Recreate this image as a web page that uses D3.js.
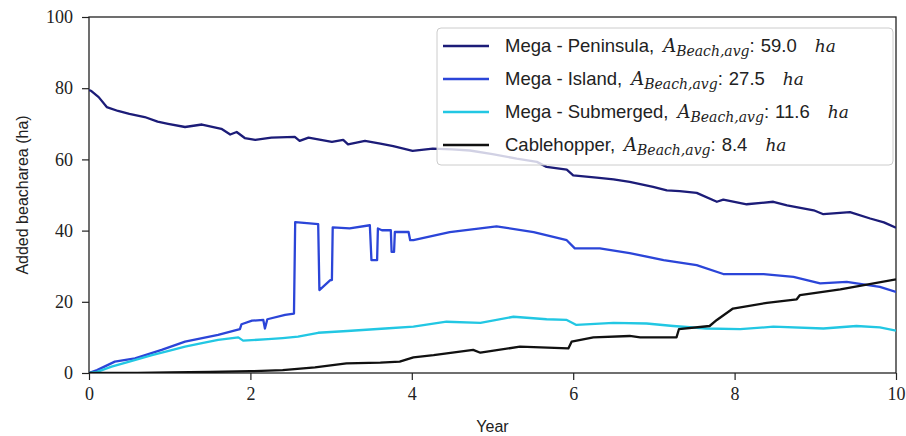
<!DOCTYPE html>
<html>
<head>
<meta charset="utf-8">
<script src="https://cdn.jsdelivr.net/npm/d3@7"></script>
<style>
  body { margin: 0; background: white; }
  svg { display: block; }
</style>
</head>
<body>
<div id="graf"></div>
<script>
// year, added beach area (ha)
const peninsula = [[0,79.5],[0.03,79.2],[0.12,77.5],[0.22,74.7],[0.36,73.6],[0.5,72.8],[0.69,71.9],[0.85,70.6],[0.98,70.0],[1.19,69.1],[1.4,69.8],[1.64,68.6],[1.75,67.0],[1.83,67.7],[1.93,66.0],[2.06,65.5],[2.26,66.1],[2.55,66.3],[2.61,65.2],[2.72,66.1],[3.01,64.9],[3.15,65.5],[3.21,64.2],[3.42,65.2],[3.61,64.4],[3.77,63.7],[4.01,62.4],[4.26,63.0],[4.5,62.8],[4.72,62.5],[5.0,61.5],[5.3,60.2],[5.55,59.3],[5.67,57.9],[5.92,57.1],[6.0,55.5],[6.29,54.9],[6.5,54.4],[6.7,53.7],[6.99,52.3],[7.16,51.3],[7.32,51.1],[7.53,50.6],[7.78,48.1],[7.86,48.7],[8.15,47.4],[8.48,48.1],[8.65,47.1],[8.98,45.7],[9.1,44.6],[9.43,45.2],[9.68,43.4],[9.85,42.3],[10,40.8]]
const island = [[0,0],[0.1,0.8],[0.32,3.2],[0.57,4.1],[0.9,6.5],[1.19,8.8],[1.6,10.7],[1.87,12.3],[1.89,13.7],[2.02,14.7],[2.16,14.9],[2.18,12.5],[2.21,15.1],[2.43,16.3],[2.54,16.7],[2.555,42.4],[2.7,42.1],[2.84,41.8],[2.855,23.3],[2.99,26.1],[3.01,26.1],[3.02,40.9],[3.23,40.6],[3.48,41.5],[3.5,31.7],[3.57,31.7],[3.58,40.6],[3.63,40.1],[3.74,40.1],[3.75,34.0],[3.78,34.0],[3.79,39.6],[3.96,39.6],[3.98,37.3],[4.02,37.3],[4.47,39.6],[5.05,41.2],[5.51,39.6],[5.92,37.3],[6.02,35.0],[6.33,35.0],[6.7,33.7],[7.12,31.7],[7.53,30.3],[7.86,27.8],[8.36,27.8],[8.73,27.0],[9.06,25.2],[9.39,25.6],[9.8,24.2],[10,22.8]]
const submerged = [[0,0],[0.1,0.3],[0.28,1.8],[0.5,3.2],[0.78,5.0],[1.0,6.3],[1.19,7.4],[1.4,8.4],[1.6,9.3],[1.85,10.0],[1.91,9.1],[2.22,9.5],[2.4,9.8],[2.59,10.2],[2.84,11.3],[3.2,11.8],[3.67,12.5],[4.02,13.0],[4.43,14.4],[4.85,14.1],[5.26,15.8],[5.67,15.1],[5.92,14.9],[6.04,13.5],[6.5,14.1],[6.91,13.9],[7.24,13.2],[7.65,12.5],[8.07,12.3],[8.48,13.0],[9.1,12.5],[9.51,13.2],[9.8,12.8],[10,11.9]]
const cablehopper = [[0,0],[0.6,0],[1.0,0.2],[1.5,0.3],[2.0,0.5],[2.4,0.8],[2.8,1.6],[3.19,2.7],[3.61,2.9],[3.85,3.2],[4.02,4.4],[4.27,5.0],[4.76,6.5],[4.85,5.7],[5.34,7.4],[5.94,6.9],[5.98,8.8],[6.25,10.0],[6.7,10.4],[6.83,10.0],[7.28,10.0],[7.31,12.3],[7.69,13.2],[7.78,14.9],[7.98,18.1],[8.4,19.7],[8.77,20.7],[8.81,21.9],[9.31,23.5],[10,26.3]]

const seriesNames = ["Mega - Peninsula", "Mega - Island", "Mega - Submerged", "Cablehopper"]
const seriesAvg = ["59.0", "27.5", "11.6", "8.4"]
const seriesColors = ["#1c1c78", "#2b45d8", "#22c7e3", "#111111"]
const xTicks = [0, 2, 4, 6, 8, 10]
const yTicks = [0, 20, 40, 60, 80, 100]

const anchoTotal = 906
const altoTotal = 436
const margins = { top: 17, right: 10, bottom: 63, left: 89 }
const ancho = anchoTotal - margins.left - margins.right
const alto = altoTotal - margins.top - margins.bottom

const svg = d3.select("#graf")
  .append("svg")
  .attr("width", anchoTotal)
  .attr("height", altoTotal)

const g = svg.append("g")
  .attr("transform", `translate(${margins.left}, ${margins.top})`)

const x = d3.scaleLinear().domain([0, 10]).range([0, ancho])
const y = d3.scaleLinear().domain([0, 100]).range([alto, 0])

const serif = "'Liberation Serif', 'DejaVu Serif', serif"
const mathFont = "'DejaVu Serif', serif"
const sans = "'Liberation Sans', Arial, sans-serif"

// axes
const xAxis = g.append("g")
  .attr("transform", `translate(0, ${alto})`)
  .call(d3.axisBottom(x).tickValues(xTicks).tickSize(7).tickPadding(7))
const yAxis = g.append("g")
  .call(d3.axisLeft(y).tickValues(yTicks).tickSize(7).tickPadding(9))

for (const ax of [xAxis, yAxis]) {
  ax.select(".domain").remove()
  ax.selectAll("line").attr("stroke", "#222").attr("stroke-width", 1.2)
  ax.selectAll("text")
    .attr("font-family", serif)
    .attr("font-size", 18)
    .attr("fill", "#222")
}

// frame
g.append("rect")
  .attr("width", ancho)
  .attr("height", alto)
  .attr("fill", "none")
  .attr("stroke", "#222")
  .attr("stroke-width", 1.3)

const line = d3.line()
  .x((d) => x(d[0]))
  .y((d) => y(d[1]))

const allSeries = [peninsula, island, submerged, cablehopper]

g.append("defs").append("clipPath").attr("id", "clip")
  .append("rect").attr("width", ancho).attr("height", alto)

g.append("g").attr("clip-path", "url(#clip)")
  .selectAll("path")
  .data(allSeries)
  .enter()
  .append("path")
  .attr("d", line)
  .attr("fill", "none")
  .attr("stroke", (d, i) => seriesColors[i])
  .attr("stroke-width", 2.3)
  .attr("stroke-linejoin", "round")

// axis labels
svg.append("text")
  .attr("x", margins.left + ancho / 2)
  .attr("y", 432)
  .attr("text-anchor", "middle")
  .attr("font-family", sans)
  .attr("font-size", 16)
  .attr("fill", "#222")
  .text("Year")

svg.append("text")
  .attr("transform", `translate(28, ${margins.top + alto / 2}) rotate(-90)`)
  .attr("text-anchor", "middle")
  .attr("font-family", sans)
  .attr("font-size", 16)
  .attr("fill", "#222")
  .text("Added beacharea (ha)")

// legend
const legend = svg.append("g").attr("transform", "translate(437, 28)")
legend.append("rect")
  .attr("width", 456)
  .attr("height", 137)
  .attr("rx", 4)
  .attr("fill", "white")
  .attr("fill-opacity", 0.8)
  .attr("stroke", "#cccccc")

const rows = legend.selectAll("g.row")
  .data(seriesNames)
  .enter()
  .append("g")
  .attr("class", "row")
  .attr("transform", (d, i) => `translate(0, ${18 + i * 33})`)

rows.append("line")
  .attr("x1", 6).attr("x2", 52)
  .attr("stroke", (d, i) => seriesColors[i])
  .attr("stroke-width", 2.5)

const label = rows.append("text")
  .attr("x", 68)
  .attr("y", 6)
  .attr("font-family", sans)
  .attr("font-size", 18.5)
  .attr("fill", "#222")

label.append("tspan").text((d) => d + ",")
label.append("tspan").attr("dx", 9).attr("font-family", mathFont).attr("font-style", "italic")
  .attr("font-size", 18).text("A")
label.append("tspan").attr("font-family", mathFont).attr("font-style", "italic")
  .attr("font-size", 14).attr("dy", 4).text("Beach,avg")
label.append("tspan").attr("dy", -4).text(":")
label.append("tspan").attr("dx", 6).text((d, i) => seriesAvg[i])
label.append("tspan").attr("dx", 18).attr("font-family", mathFont).attr("font-style", "italic")
  .attr("font-size", 17).text("ha")
</script>
</body>
</html>
